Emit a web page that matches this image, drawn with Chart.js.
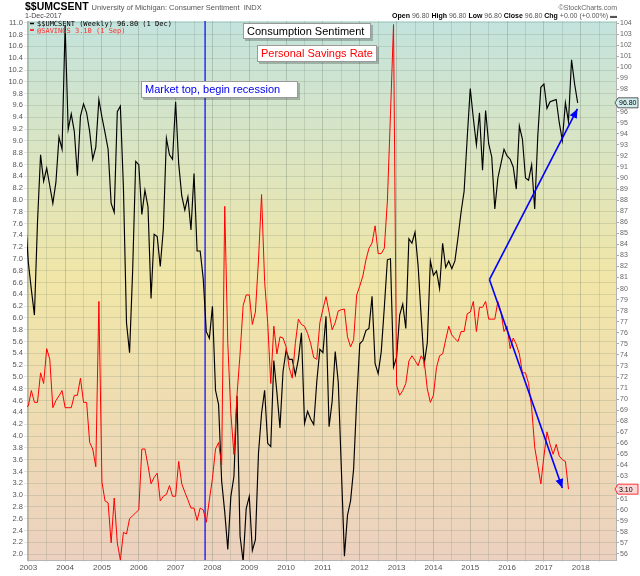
<!DOCTYPE html>
<html>
<head>
<meta charset="utf-8">
<script src="https://cdn.jsdelivr.net/npm/chart.js@4.4.1/dist/chart.umd.min.js"></script>
<style>
html, body { margin: 0; padding: 0; background: #fff; }
</style>
</head>
<body>
<canvas id="chart" width="640" height="576"></canvas>
<script>
// Monthly values, first month is Dec 2002
var firstYear = 2002, firstMonth = 12;

// University of Michigan consumer sentiment (right axis)
var sentiment = [
  86.7,
  82.4, 79.9, 77.6, 86.0, 92.1, 89.7, 90.9, 89.3, 87.7, 89.6, 93.7, 92.6,
  103.8, 94.4, 95.8, 94.2, 90.2, 95.6, 96.7, 95.9, 94.2, 91.7, 92.8, 97.1,
  95.5, 94.1, 92.6, 87.7, 86.9, 96.0, 96.5, 89.1, 76.9, 74.2, 81.6, 91.5,
  91.2, 86.7, 88.9, 87.4, 79.1, 84.9, 84.7, 82.0, 85.4, 93.6, 92.1, 91.7,
  96.9, 91.3, 88.4, 87.1, 88.3, 85.3, 90.4, 83.4, 83.4, 80.9, 76.1, 75.5,
  78.4, 70.8, 69.5, 62.6, 59.8, 56.4, 61.2, 63.0, 70.3, 57.6, 55.3, 60.1,
  61.2, 56.3, 57.3, 65.1, 68.7, 70.8, 66.0, 65.7, 73.5, 70.6, 67.4, 72.5,
  74.4, 73.6, 73.6, 72.2, 73.6, 76.0, 67.8, 68.9, 68.2, 67.7, 71.6, 74.5,
  74.2, 77.5, 67.5, 69.8, 74.3, 71.5, 63.7, 55.8, 59.5, 60.8, 63.7, 69.9,
  75.0, 75.3, 76.2, 76.4, 79.3, 73.2, 72.3, 74.3, 78.3, 82.6, 82.7, 72.9,
  73.8, 77.6, 78.6, 76.4, 84.5, 84.1, 85.1, 82.1, 77.5, 73.2, 75.1, 82.5,
  81.2, 81.6, 80.0, 84.1, 81.9, 82.5, 81.8, 82.5, 84.6, 86.9, 88.8, 93.6,
  98.1, 95.4, 93.0, 95.9, 90.7, 96.1, 93.1, 91.9, 87.2, 90.0, 91.3, 92.6,
  92.0, 91.7, 91.0, 89.0, 94.7, 93.5, 90.0, 89.8, 91.2, 87.2, 93.8, 98.2,
  98.5, 96.3, 96.9, 97.0, 97.1, 95.0, 93.4, 96.8, 95.1, 100.7, 98.5, 96.8
];

// Personal savings rate, % (left axis)
var savings = [
  4.48,
  4.51, 4.77, 4.57, 4.57, 5.07, 4.89, 5.48, 5.30, 4.48, 4.60, 4.68, 4.77,
  4.48, 4.48, 4.48, 4.69, 4.69, 4.98, 4.57, 4.57, 3.89, 3.78, 3.48, 6.28,
  3.22, 2.90, 2.87, 2.19, 2.95, 2.19, 1.90, 2.37, 2.34, 2.60, 2.65, 2.70,
  2.75, 3.78, 3.78, 3.50, 3.19, 3.30, 3.37, 2.90, 2.98, 3.01, 3.16, 2.98,
  2.98, 3.57, 3.19, 3.05, 2.92, 2.78, 2.78, 2.57, 2.78, 2.75, 2.54, 2.92,
  3.28, 3.78, 3.89, 3.51, 7.89, 5.57, 4.39, 3.69, 4.69, 5.39, 6.21, 6.39,
  6.39, 5.89, 6.10, 6.98, 8.09, 6.62, 5.92, 4.89, 5.86, 5.39, 5.68, 5.66,
  5.51, 5.16, 4.98, 5.57, 5.98, 5.89, 5.86, 5.74, 5.57, 5.33, 5.30, 5.92,
  6.15, 6.36, 6.10, 5.80, 5.92, 6.12, 6.14, 6.15, 5.68, 5.51, 5.63, 6.39,
  6.54, 6.71, 6.98, 7.18, 7.27, 7.56, 7.09, 7.09, 7.18, 7.98, 9.44, 10.97,
  4.86, 4.69, 4.77, 4.89, 5.27, 5.36, 5.28, 5.19, 5.36, 5.27, 4.80, 4.57,
  4.69, 5.16, 5.36, 5.39, 5.63, 5.86, 5.71, 5.65, 5.60, 5.77, 5.77, 6.07,
  6.10, 6.28, 5.77, 6.18, 6.18, 6.28, 5.98, 5.98, 5.98, 6.28, 6.10, 5.77,
  5.86, 5.48, 5.66, 5.55, 5.39, 5.07, 5.07, 4.89, 4.48, 3.81, 3.50, 3.19,
  3.66, 4.07, 3.86, 3.69, 3.86, 3.66, 3.60, 3.57, 3.10
];

var yearLabels = [2003, 2004, 2005, 2006, 2007, 2008, 2009, 2010, 2011, 2012, 2013, 2014, 2015, 2016, 2017, 2018];
var leftTicks = [2.0, 2.2, 2.4, 2.6, 2.8, 3.0, 3.2, 3.4, 3.6, 3.8, 4.0, 4.2, 4.4, 4.6, 4.8, 5.0, 5.2, 5.4, 5.6, 5.8,
  6.0, 6.2, 6.4, 6.6, 6.8, 7.0, 7.2, 7.4, 7.6, 7.8, 8.0, 8.2, 8.4, 8.6, 8.8, 9.0, 9.2, 9.4, 9.6, 9.8,
  10.0, 10.2, 10.4, 10.6, 10.8, 11.0];
var rightTicks = [56, 57, 58, 59, 60, 61, 62, 63, 64, 65, 66, 67, 68, 69, 70, 71, 72, 73, 74, 75, 76, 77, 78, 79, 80,
  81, 82, 83, 84, 85, 86, 87, 88, 89, 90, 91, 92, 93, 94, 95, 96, 97, 98, 99, 100, 101, 102, 103, 104];

// annotation anchors (year, savings-axis value)
var marketTop = 2007.8;
var arrowFrom = [2015.52, 6.65];
var arrowUpTo = [2017.91, 9.54];
var arrowDownTo = [2017.5, 3.12];

function toPoints(values) {
  return values.map(function (v, i) {
    return { x: firstYear + (firstMonth - 1 + i) / 12, y: v };
  });
}

var halfYears = [];
yearLabels.forEach(function (y) { halfYears.push(y, y + 0.5); });

var SANS = '"Liberation Sans", Arial, sans-serif';
var MONO = '"DejaVu Sans Mono", monospace';

var backgroundPlugin = {
  id: 'bg',
  beforeDraw: function (chart) {
    var ctx = chart.ctx, a = chart.chartArea;
    ctx.save();
    ctx.fillStyle = '#fff';
    ctx.fillRect(0, 0, chart.width, chart.height);
    var g = ctx.createLinearGradient(0, a.top, 0, a.bottom);
    g.addColorStop(0, '#c3e3dd');
    g.addColorStop(0.48, '#f1e6a7');
    g.addColorStop(1, '#ecd1bf');
    ctx.fillStyle = g;
    ctx.fillRect(a.left, a.top, a.right - a.left, a.bottom - a.top);
    ctx.restore();
  },
  beforeDatasetsDraw: function (chart) {
    var ctx = chart.ctx, a = chart.chartArea;
    var x = chart.scales.x.getPixelForValue(marketTop);
    ctx.save();
    ctx.strokeStyle = '#0000ff';
    ctx.lineWidth = 1.2;
    ctx.beginPath();
    ctx.moveTo(x, a.top);
    ctx.lineTo(x, a.bottom);
    ctx.stroke();
    ctx.restore();
  }
};

function arrow(ctx, x1, y1, x2, y2) {
  ctx.beginPath();
  ctx.moveTo(x1, y1);
  ctx.lineTo(x2, y2);
  ctx.stroke();
  var ang = Math.atan2(y2 - y1, x2 - x1);
  var len = 9, half = 4;
  ctx.beginPath();
  ctx.moveTo(x2, y2);
  ctx.lineTo(x2 - len * Math.cos(ang) + half * Math.sin(ang), y2 - len * Math.sin(ang) - half * Math.cos(ang));
  ctx.lineTo(x2 - len * Math.cos(ang) - half * Math.sin(ang), y2 - len * Math.sin(ang) + half * Math.cos(ang));
  ctx.closePath();
  ctx.fill();
}

function noteBox(ctx, x, y, w, h, text, color, font) {
  ctx.fillStyle = 'rgba(0,0,0,0.22)';
  ctx.fillRect(x + 2, y + 2, w, h);
  ctx.fillStyle = '#fff';
  ctx.fillRect(x, y, w, h);
  ctx.strokeStyle = '#9a9a9a';
  ctx.lineWidth = 1;
  ctx.strokeRect(x + 0.5, y + 0.5, w - 1, h - 1);
  ctx.fillStyle = color;
  ctx.font = font;
  ctx.textAlign = 'left';
  ctx.textBaseline = 'middle';
  ctx.fillText(text, x + 4, y + h / 2 + 0.5);
}

function valueTag(ctx, xLeft, yc, text, stroke, fill, color) {
  ctx.beginPath();
  ctx.moveTo(xLeft, yc);
  ctx.lineTo(xLeft + 3, yc - 5);
  ctx.lineTo(xLeft + 23, yc - 5);
  ctx.lineTo(xLeft + 23, yc + 5);
  ctx.lineTo(xLeft + 3, yc + 5);
  ctx.closePath();
  ctx.fillStyle = fill;
  ctx.fill();
  ctx.strokeStyle = stroke;
  ctx.lineWidth = 0.8;
  ctx.stroke();
  ctx.fillStyle = color;
  ctx.font = '7px ' + SANS;
  ctx.textAlign = 'left';
  ctx.textBaseline = 'middle';
  ctx.fillText(text, xLeft + 4, yc + 0.5);
}

var overlayPlugin = {
  id: 'overlay',
  afterDatasetsDraw: function (chart) {
    var ctx = chart.ctx, sx = chart.scales.x, sy = chart.scales.yL;
    ctx.save();
    ctx.strokeStyle = '#0000ff';
    ctx.fillStyle = '#0000ff';
    ctx.lineWidth = 1.6;
    var fx = sx.getPixelForValue(arrowFrom[0]), fy = sy.getPixelForValue(arrowFrom[1]);
    arrow(ctx, fx, fy, sx.getPixelForValue(arrowUpTo[0]), sy.getPixelForValue(arrowUpTo[1]));
    arrow(ctx, fx, fy, sx.getPixelForValue(arrowDownTo[0]), sy.getPixelForValue(arrowDownTo[1]));
    ctx.restore();
  },
  afterDraw: function (chart) {
    var ctx = chart.ctx, a = chart.chartArea;
    var left = a.left - 2, right = a.right + 1;
    ctx.save();

    // header
    ctx.textAlign = 'left';
    ctx.textBaseline = 'alphabetic';
    ctx.fillStyle = '#000';
    ctx.font = 'bold 10.5px ' + SANS;
    ctx.fillText('$$UMCSENT', left, 10);
    var w = ctx.measureText('$$UMCSENT').width;
    ctx.font = '7.5px ' + SANS;
    ctx.fillStyle = '#555';
    ctx.fillText('University of Michigan: Consumer Sentiment  INDX', left + w + 3, 10);
    ctx.font = '7px ' + SANS;
    ctx.fillStyle = '#444';
    ctx.fillText('1-Dec-2017', left, 18);
    ctx.textAlign = 'right';
    ctx.fillStyle = '#666';
    ctx.fillText('\u00a9StockCharts.com', right, 10);

    var parts = [['Open ', true], ['96.80 ', false], ['High ', true], ['96.80 ', false], ['Low ', true],
      ['96.80 ', false], ['Close ', true], ['96.80 ', false], ['Chg ', true], ['+0.00 (+0.00%) \u25ac', false]];
    var total = 0;
    parts.forEach(function (p) {
      ctx.font = (p[1] ? 'bold ' : '') + '7px ' + SANS;
      total += ctx.measureText(p[0]).width;
    });
    var px = right - total;
    ctx.textAlign = 'left';
    parts.forEach(function (p) {
      ctx.font = (p[1] ? 'bold ' : '') + '7px ' + SANS;
      ctx.fillStyle = p[1] ? '#000' : '#555';
      ctx.fillText(p[0], px, 18);
      px += ctx.measureText(p[0]).width;
    });

    // in-chart legend
    ctx.font = '7px ' + MONO;
    ctx.lineWidth = 1.5;
    ctx.strokeStyle = '#000';
    ctx.beginPath(); ctx.moveTo(a.left + 3, a.top + 2.5); ctx.lineTo(a.left + 7, a.top + 2.5); ctx.stroke();
    ctx.fillStyle = '#000';
    ctx.fillText('$$UMCSENT (Weekly) 96.80 (1 Dec)', a.left + 10, a.top + 5);
    ctx.strokeStyle = '#ff0000';
    ctx.beginPath(); ctx.moveTo(a.left + 3, a.top + 9); ctx.lineTo(a.left + 7, a.top + 9); ctx.stroke();
    ctx.fillStyle = '#ff3030';
    ctx.fillText('@SAVINGS 3.10 (1 Sep)', a.left + 10, a.top + 11.5);

    // notes
    noteBox(ctx, 243, 23, 128, 16, 'Consumption Sentiment', '#000', '11px ' + SANS);
    noteBox(ctx, 257, 45, 120, 17, 'Personal Savings Rate', '#ff0000', '11px ' + SANS);
    noteBox(ctx, 141, 81, 157, 17, 'Market top, begin recession', '#0000ee', '11px ' + SANS);

    // last value tags
    valueTag(ctx, a.right - 1, chart.scales.yR.getPixelForValue(sentiment[sentiment.length - 1]),
      sentiment[sentiment.length - 1].toFixed(2), '#333', '#d2eeee', '#000');
    valueTag(ctx, a.right - 1, chart.scales.yL.getPixelForValue(savings[savings.length - 1]),
      savings[savings.length - 1].toFixed(2), '#ff0000', '#fbd6d6', '#000');

    ctx.restore();
  }
};

var gridColor = 'rgba(105,125,105,0.2)';

new Chart(document.getElementById('chart'), {
  type: 'line',
  data: {
    datasets: [
      { label: '@SAVINGS', data: toPoints(savings), yAxisID: 'yL', borderColor: '#ff0000', borderWidth: 1 },
      { label: '$$UMCSENT', data: toPoints(sentiment), yAxisID: 'yR', borderColor: '#000', borderWidth: 1.15 }
    ]
  },
  options: {
    responsive: false,
    animation: false,
    devicePixelRatio: 1,
    layout: { padding: { top: 21, left: 0, right: 0, bottom: 0 } },
    elements: { point: { radius: 0 }, line: { tension: 0 } },
    plugins: { legend: { display: false }, tooltip: { enabled: false } },
    scales: {
      x: {
        type: 'linear',
        min: 2002.965,
        max: 2018.957,
        afterBuildTicks: function (axis) { axis.ticks = halfYears.map(function (v) { return { value: v }; }); },
        afterFit: function (axis) { axis.height = 16; },
        ticks: {
          autoSkip: false, maxRotation: 0, padding: 1, color: '#555',
          font: { size: 8, family: SANS },
          callback: function (v) { return Number.isInteger(v) ? String(v) : ''; }
        },
        grid: {
          tickLength: 2,
          color: function (c) { return c.tick && Number.isInteger(c.tick.value) ? 'rgba(100,120,100,0.3)' : gridColor; }
        },
        border: { color: '#b5b5b5' }
      },
      yL: {
        position: 'left',
        min: 1.9,
        max: 11.03,
        afterBuildTicks: function (axis) { axis.ticks = leftTicks.map(function (v) { return { value: v }; }); },
        afterFit: function (axis) { axis.width = 27; },
        ticks: {
          autoSkip: false, padding: 1, color: '#555',
          font: { size: 7.5, family: SANS },
          callback: function (v) { return v.toFixed(1); }
        },
        grid: { color: gridColor, tickLength: 3 },
        border: { color: '#b5b5b5' }
      },
      yR: {
        position: 'right',
        min: 55.45,
        max: 104.2,
        afterBuildTicks: function (axis) { axis.ticks = rightTicks.map(function (v) { return { value: v }; }); },
        afterFit: function (axis) { axis.width = 24; },
        ticks: {
          autoSkip: false, padding: 1, color: '#666',
          font: { size: 7, family: SANS },
          callback: function (v) { return String(v); }
        },
        grid: { drawOnChartArea: false, tickLength: 3, color: '#aaa' },
        border: { color: '#b5b5b5', dash: [1, 1] }
      }
    }
  },
  plugins: [backgroundPlugin, overlayPlugin]
});
</script>
</body>
</html>
